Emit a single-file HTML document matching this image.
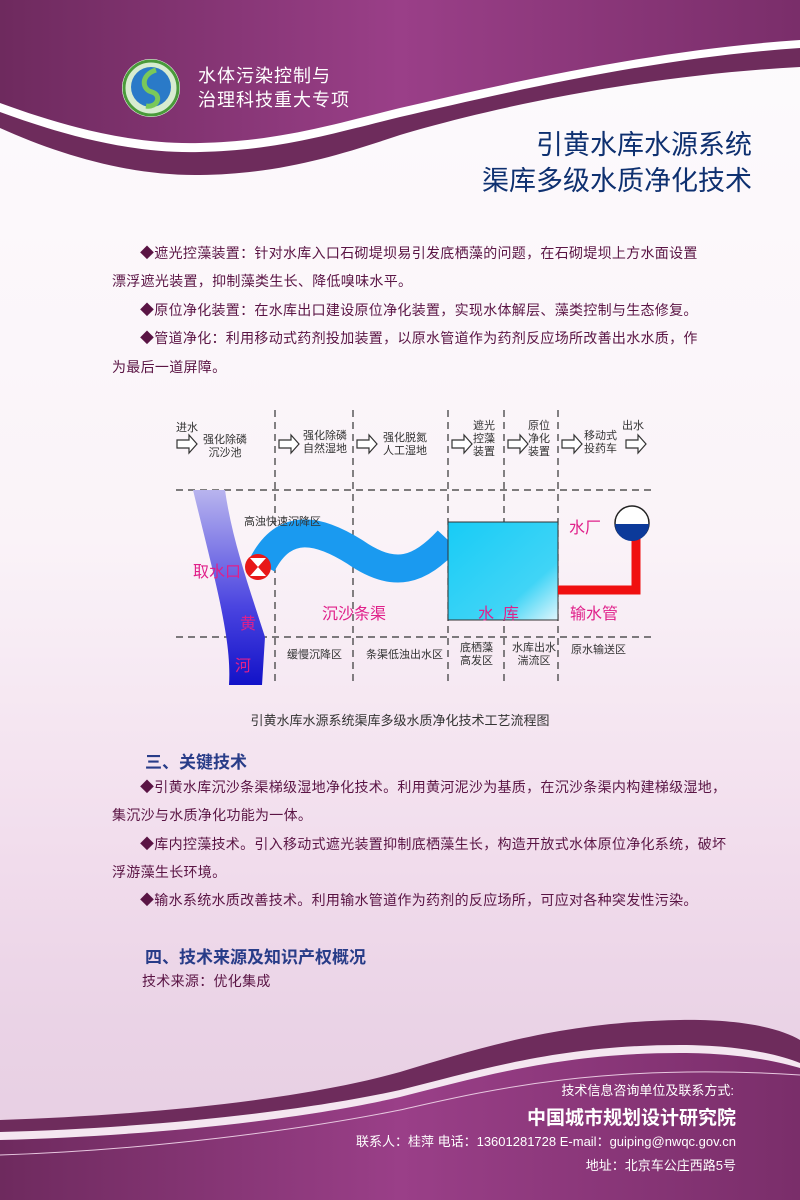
<!DOCTYPE html>
<html><head><meta charset="utf-8"><style>
*{margin:0;padding:0}
body{width:800px;height:1200px;position:relative;overflow:hidden;font-family:"Liberation Sans","Noto Sans CJK SC",sans-serif;background:linear-gradient(#fdfbfd 0%,#faf3f8 45%,#f1dcec 72%,#ead3e6 85%,#e6cde1 100%)}
.t{position:absolute;white-space:nowrap}
.p{font-size:14px;color:#5a1444;letter-spacing:0.3px}
.h{font-size:17px;font-weight:bold;color:#283c88}
.d{font-size:11px;color:#333;line-height:13px;text-align:center}
.m{color:#e0208a;font-size:16px}
</style></head><body>
<svg width="800" height="1200" style="position:absolute;left:0;top:0">
<defs>
<linearGradient id="pg" x1="0" y1="0" x2="1" y2="0"><stop offset="0" stop-color="#6e2a5e"/><stop offset="0.5" stop-color="#9a3f88"/><stop offset="1" stop-color="#7a2e6a"/></linearGradient>
<linearGradient id="riv" x1="0" y1="0" x2="0" y2="1"><stop offset="0" stop-color="#b8b4ee"/><stop offset="0.6" stop-color="#4a44e0"/><stop offset="1" stop-color="#1212c8"/></linearGradient>
<linearGradient id="res" x1="0" y1="0" x2="1" y2="1"><stop offset="0" stop-color="#18ccf6"/><stop offset="0.7" stop-color="#40d4f6"/><stop offset="1" stop-color="#e0f6fc"/></linearGradient>
</defs>
<!-- top band -->
<path d="M0 0H800V67C650 75 500 105 400 135C340 155 280 174 200 175C130 176 60 155 0 128Z" fill="#6e2c5c"/>
<path d="M0 0H800V48C650 58 500 94 400 117C330 134 280 150 200 152C130 154 60 134 0 112Z" fill="#fff"/>
<path d="M0 0H800V40C650 50 500 85 400 108C330 125 280 141 200 143C130 145 60 125 0 103Z" fill="url(#pg)"/>
<!-- bottom band -->
<path d="M0 1120C150 1115 300 1100 400 1072C480 1048 560 1022 680 1020C740 1019 780 1028 800 1040V1200H0Z" fill="#6e2c5c"/>
<path d="M0 1132C150 1128 300 1112 400 1090C480 1070 560 1045 680 1045C740 1045 780 1055 800 1063V1200H0Z" fill="#f4e6f0"/>
<path d="M0 1140C150 1136 300 1120 400 1097C480 1077 560 1053 680 1053C740 1053 780 1062 800 1068V1200H0Z" fill="url(#pg)"/>
<path d="M0 1155C150 1150 300 1130 400 1110C480 1092 600 1062 800 1075" stroke="#e8c8e0" stroke-width="1" fill="none"/>
<!-- diagram -->
<g stroke="#333" stroke-width="1.2" stroke-dasharray="7,5" fill="none">
<line x1="176" y1="490" x2="655" y2="490"/><line x1="176" y1="637" x2="655" y2="637"/>
<line x1="275" y1="410" x2="275" y2="685"/><line x1="353" y1="410" x2="353" y2="685"/>
<line x1="448" y1="410" x2="448" y2="685"/><line x1="504" y1="410" x2="504" y2="685"/>
<line x1="558" y1="410" x2="558" y2="685"/>
</g>
<g fill="#fff" stroke="#333" stroke-width="1.2">
<path d="M177 440h12v-5l8 9-8 9v-5h-12z"/><path d="M279 440h12v-5l8 9-8 9v-5h-12z"/>
<path d="M357 440h12v-5l8 9-8 9v-5h-12z"/><path d="M452 440h12v-5l8 9-8 9v-5h-12z"/>
<path d="M508 440h12v-5l8 9-8 9v-5h-12z"/><path d="M562 440h12v-5l8 9-8 9v-5h-12z"/>
<path d="M626 440h12v-5l8 9-8 9v-5h-12z"/>
</g>
<path d="M193 490H225C232 540 250 590 265 637L262 685H229C232 640 215 580 193 490Z" fill="url(#riv)"/>
<path d="M262 565C285 520 320 530 355 552C395 580 420 570 448 540" stroke="#1a9af0" stroke-width="28" fill="none"/>
<rect x="448" y="522" width="110" height="98" fill="url(#res)" stroke="#333" stroke-width="1"/>
<path d="M558 590H636V538" stroke="#f01010" stroke-width="9" fill="none"/>
<circle cx="632" cy="523" r="17" fill="#fff" stroke="#222" stroke-width="1.5"/>
<path d="M615 524H649A17 17 0 0 1 615 524Z" fill="#0c3a9a"/>
<circle cx="258" cy="567" r="13" fill="#e81818"/>
<path d="M250 558L266 558L258 567Z M250 576L266 576L258 567Z" fill="#fff"/>
<!-- logo -->
<circle cx="151" cy="88" r="29" fill="#fff"/>
<circle cx="151" cy="88" r="27" fill="#d8ecd0" stroke="#4a9a3a" stroke-width="3"/>
<circle cx="151" cy="87" r="20" fill="#2a7ac8"/>
<path d="M156 70C140 75 142 90 152 92C162 95 158 108 146 106" stroke="#7ac85a" stroke-width="5" fill="none"/>
</svg>
<div class="t" style="left:198px;top:64px;font-size:18px;color:#fff;letter-spacing:1px;line-height:24px">水体污染控制与<br>治理科技重大专项</div>
<div class="t" style="right:48px;top:127px;font-size:27px;color:#0e3070;line-height:36px;text-align:right">引黄水库水源系统<br>渠库多级水质净化技术</div>
<div class="t p" style="left:140px;top:243px">◆遮光控藻装置：针对水库入口石砌堤坝易引发底栖藻的问题，在石砌堤坝上方水面设置</div>
<div class="t p" style="left:112px;top:271px">漂浮遮光装置，抑制藻类生长、降低嗅味水平。</div>
<div class="t p" style="left:140px;top:300px">◆原位净化装置：在水库出口建设原位净化装置，实现水体解层、藻类控制与生态修复。</div>
<div class="t p" style="left:140px;top:328px">◆管道净化：利用移动式药剂投加装置，以原水管道作为药剂反应场所改善出水水质，作</div>
<div class="t p" style="left:112px;top:357px">为最后一道屏障。</div>
<!-- diagram labels -->
<div class="t d" style="left:176px;top:422px">进水</div>
<div class="t d" style="left:203px;top:434px">强化除磷<br>沉沙池</div>
<div class="t d" style="left:303px;top:430px">强化除磷<br>自然湿地</div>
<div class="t d" style="left:383px;top:432px">强化脱氮<br>人工湿地</div>
<div class="t d" style="left:473px;top:420px">遮光<br>控藻<br>装置</div>
<div class="t d" style="left:528px;top:420px">原位<br>净化<br>装置</div>
<div class="t d" style="left:584px;top:430px">移动式<br>投药车</div>
<div class="t d" style="left:622px;top:420px">出水</div>
<div class="t d" style="left:244px;top:516px">高浊快速沉降区</div>
<div class="t d" style="left:287px;top:649px">缓慢沉降区</div>
<div class="t d" style="left:366px;top:649px">条渠低浊出水区</div>
<div class="t d" style="left:460px;top:642px">底栖藻<br>高发区</div>
<div class="t d" style="left:512px;top:642px">水库出水<br>湍流区</div>
<div class="t d" style="left:571px;top:644px">原水输送区</div>
<div class="t m" style="left:193px;top:558px">取水口</div>
<div class="t m" style="left:322px;top:600px">沉沙条渠</div>
<div class="t m" style="left:478px;top:600px">水&nbsp;&nbsp;库</div>
<div class="t m" style="left:570px;top:600px">输水管</div>
<div class="t m" style="left:569px;top:514px">水厂</div>
<div class="t m" style="left:240px;top:610px">黄</div>
<div class="t m" style="left:235px;top:652px">河</div>
<div class="t" style="left:0;width:800px;text-align:center;top:710px;font-size:13px;color:#333">引黄水库水源系统渠库多级水质净化技术工艺流程图</div>
<div class="t h" style="left:145px;top:748px">三、关键技术</div>
<div class="t p" style="left:140px;top:777px">◆引黄水库沉沙条渠梯级湿地净化技术。利用黄河泥沙为基质，在沉沙条渠内构建梯级湿地，</div>
<div class="t p" style="left:112px;top:805px">集沉沙与水质净化功能为一体。</div>
<div class="t p" style="left:140px;top:834px">◆库内控藻技术。引入移动式遮光装置抑制底栖藻生长，构造开放式水体原位净化系统，破坏</div>
<div class="t p" style="left:112px;top:862px">浮游藻生长环境。</div>
<div class="t p" style="left:140px;top:890px">◆输水系统水质改善技术。利用输水管道作为药剂的反应场所，可应对各种突发性污染。</div>
<div class="t h" style="left:145px;top:943px">四、技术来源及知识产权概况</div>
<div class="t p" style="left:142px;top:971px">技术来源：优化集成</div>
<div class="t" style="right:66px;top:1080px;font-size:13px;color:#fff">技术信息咨询单位及联系方式:</div>
<div class="t" style="right:64px;top:1103px;font-size:19px;font-weight:bold;color:#fff">中国城市规划设计研究院</div>
<div class="t" style="right:64px;top:1131px;font-size:13px;color:#fff">联系人：桂萍 电话：13601281728 E-mail：guiping@nwqc.gov.cn</div>
<div class="t" style="right:64px;top:1155px;font-size:13px;color:#fff">地址：北京车公庄西路5号</div>
</body></html>
